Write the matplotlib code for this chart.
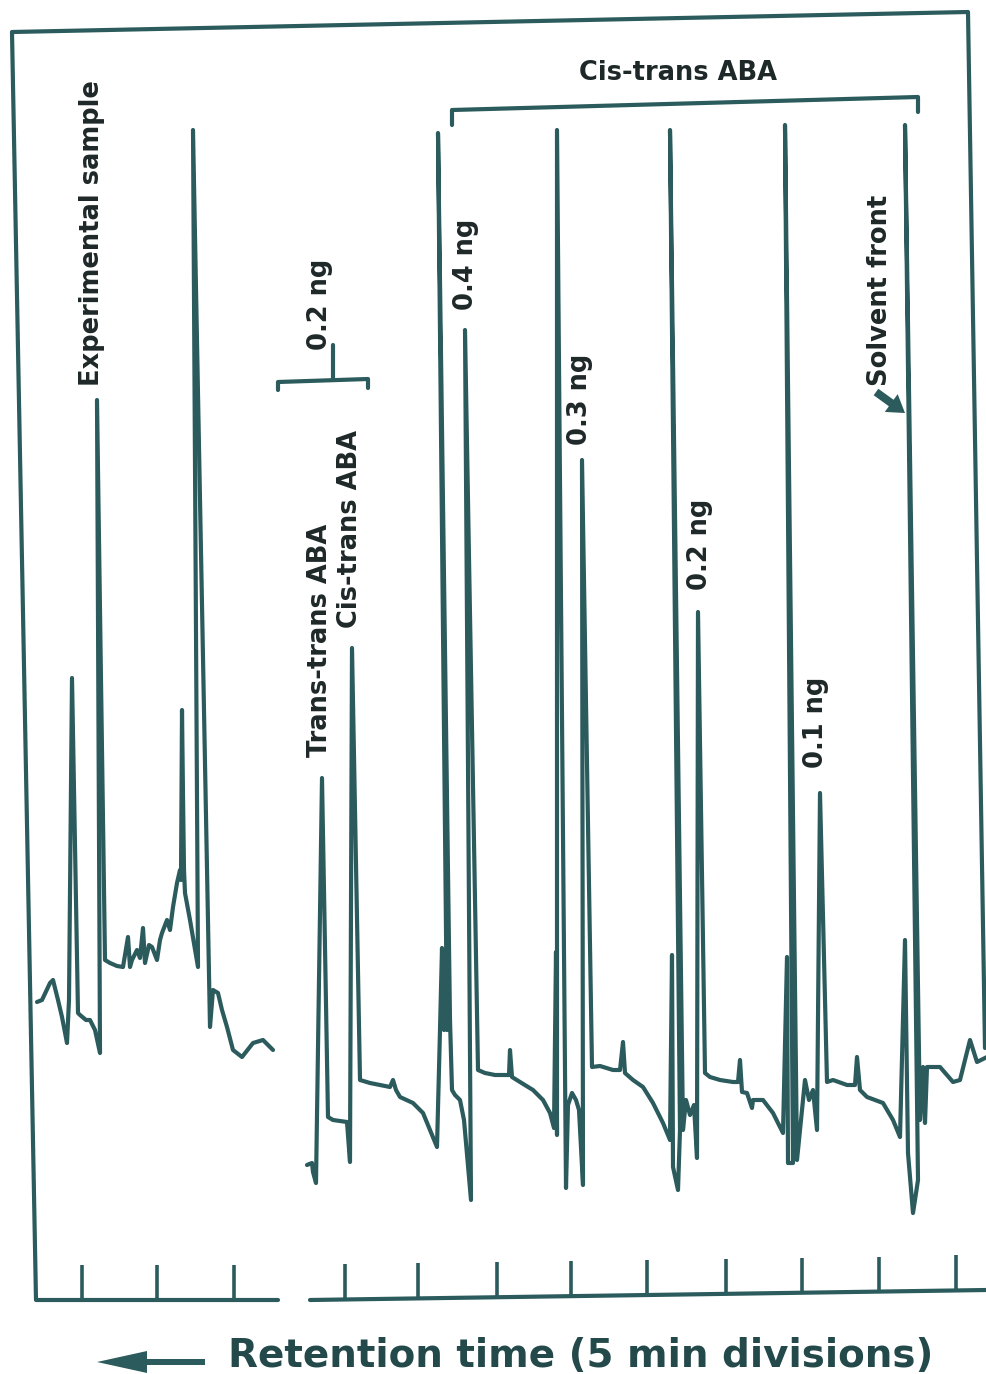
import numpy as np
import matplotlib
matplotlib.use("Agg")
import matplotlib.pyplot as plt

# chart units follow the recorder sheet: x to the right, y downwards
W, H = 987, 1374

# experimental sample run
sample_x = [37, 42, 50, 53, 58, 62, 67, 69, 72, 78, 80, 86, 90, 95, 100, 97, 105, 110, 117, 123,
            128, 130, 132, 137, 140, 143, 145, 149, 152, 157, 160, 162, 167, 170, 173, 177, 180,
            181, 182, 183, 184, 185, 190, 198, 193, 210, 213, 218, 222, 227, 233, 242, 253, 263,
            268, 273]
sample_y = [1002, 1000, 983, 980, 1000, 1017, 1043, 1000, 678, 1013, 1015, 1020, 1020, 1030, 1053,
            400, 960, 963, 966, 967, 937, 967, 960, 950, 958, 928, 963, 945, 947, 960, 940, 933,
            920, 930, 907, 883, 870, 880, 710, 795, 870, 893, 920, 967, 130, 1027, 990, 993, 1010,
            1027, 1050, 1057, 1043, 1040, 1045, 1050]

# standards run (trans-trans / cis-trans ABA, then 0.4 .. 0.1 ng injections)
std_x = [307, 312, 313, 316, 322, 328, 333, 340, 347, 350, 352, 360, 370, 380, 390, 393, 396, 400,
         413, 423, 430, 437,
         440, 442, 444, 446, 447, 438, 450, 452, 455, 460, 464, 471, 465, 478,
         485, 495, 505, 509, 510, 512, 520, 533, 543, 550, 554,
         556, 557, 557, 566, 568, 572, 576, 579, 583, 582, 592,
         600, 613, 620, 623, 625, 633, 643, 653, 663, 670,
         672, 673, 678, 680, 670, 683, 686, 690, 694, 697, 698, 705,
         710, 720, 733, 738, 740, 742, 747, 752, 753, 763, 773, 783,
         787, 788, 793, 785, 797, 805, 809, 813, 817, 820, 827,
         833, 847, 855, 857, 860, 867, 883, 893, 900,
         905, 908, 913, 918, 905, 920, 923, 925, 927, 940, 953, 960, 970, 977, 987]
std_y = [1165, 1163, 1172, 1183, 778, 1117, 1120, 1121, 1122, 1162, 648, 1080, 1083, 1085, 1087,
         1080, 1090, 1097, 1103, 1113, 1130, 1147,
         1030, 948, 1030, 950, 1030, 133, 1020, 1090, 1095, 1100, 1120, 1200, 330, 1070,
         1073, 1075, 1075, 1075, 1050, 1077, 1082, 1090, 1100, 1113, 1128,
         952, 1135, 130, 1188, 1105, 1093, 1100, 1110, 1185, 460, 1067,
         1066, 1070, 1070, 1042, 1073, 1080, 1087, 1103, 1123, 1140,
         955, 1167, 1190, 1130, 130, 1130, 1100, 1115, 1105, 1158, 612, 1073,
         1077, 1080, 1082, 1082, 1060, 1092, 1093, 1108, 1100, 1100, 1113, 1133,
         957, 1163, 1163, 125, 1160, 1080, 1100, 1090, 1130, 793, 1082,
         1080, 1085, 1085, 1057, 1090, 1097, 1103, 1120, 1137,
         940, 1153, 1213, 1180, 125, 1120, 1067, 1123, 1067, 1067, 1082, 1080, 1040, 1062, 1057]

# chart frame and the two time axes
frame_x = [278, 36, 12, 968, 985]
frame_y = [1300, 1300, 32, 12, 1048]
std_axis_x = [310, 987]
std_axis_y = [1300, 1290]
sample_ticks = [82, 157, 234]
std_ticks = [345, 418, 497, 571, 647, 726, 802, 879, 956]
tick_top = 1265

# bracket over the cis-trans standards and the 0.2 ng scale bar
bracket_x = [452, 452, 918, 918]
bracket_y = [125, 110, 97, 112]
scale_x = [278, 278, 368, 368]
scale_y = [390, 382, 379, 388]
scale_bar_x = [333, 333]
scale_bar_y = [345, 380]

peak_labels = ["0.4 ng", "0.3 ng", "0.2 ng", "0.1 ng"]
peak_label_x = [466, 580, 700, 816]
peak_label_y = [310, 445, 590, 768]

ink = "#2b5b5c"
text_ink = "#1e2829"

fig = plt.figure(figsize=(W / 100, H / 100), dpi=100)
ax = fig.add_axes([0, 0, 1, 1])
ax.set_xlim(0, W)
ax.set_ylim(H, 0)
ax.axis("off")

line_kw = dict(color=ink, lw=3.0, solid_joinstyle="round", solid_capstyle="round")
ax.plot(frame_x, frame_y, **line_kw)
ax.plot(std_axis_x, std_axis_y, **line_kw)
ax.plot(sample_x, sample_y, **line_kw)
ax.plot(std_x, std_y, **line_kw)
ax.plot(bracket_x, bracket_y, **line_kw)
ax.plot(scale_x, scale_y, **line_kw)
ax.plot(scale_bar_x, scale_bar_y, **line_kw)

ax.vlines(sample_ticks, tick_top, 1300, color=ink, lw=2.6)
std_base = np.interp(std_ticks, std_axis_x, std_axis_y)
ax.vlines(std_ticks, tick_top - (1300 - std_base), std_base, color=ink, lw=2.6)

lab = dict(color=text_ink, fontsize=18.5, fontweight="bold", rotation=90,
           ha="center", va="bottom", family="DejaVu Sans")
ax.text(92, 386, "Experimental sample", **lab)
ax.text(320, 350, "0.2 ng", **lab)
ax.text(320, 757, "Trans-trans ABA", **lab)
ax.text(350, 628, "Cis-trans ABA", **lab)
ax.text(880, 386, "Solvent front", **lab)
for s, x, y in zip(peak_labels, peak_label_x, peak_label_y):
    ax.text(x, y, s, **lab)

ax.text(678, 73, "Cis-trans ABA", color=text_ink, fontsize=18.5, fontweight="bold",
        ha="center", va="center")

ax.arrow(876, 392, 29, 21, width=8, head_width=22, head_length=17,
         length_includes_head=True, color=ink, lw=0)
ax.arrow(205, 1362, -108, 0, width=6, head_width=22, head_length=50,
         length_includes_head=True, color=ink, lw=0)
ax.text(228, 1356, "Retention time (5 min divisions)", color="#24494a", fontsize=28,
        fontweight="bold", ha="left", va="center")

fig.savefig("out.png", dpi=100)
